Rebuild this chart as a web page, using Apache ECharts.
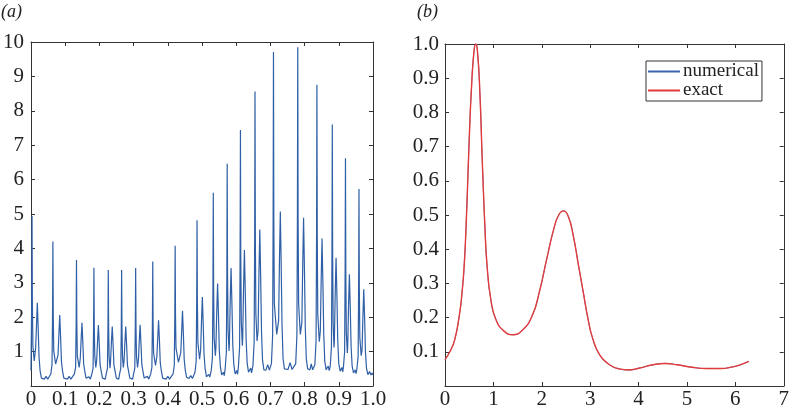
<!DOCTYPE html>
<html>
<head>
<meta charset="utf-8">
<script src="https://cdn.jsdelivr.net/npm/echarts@6/dist/echarts.min.js"></script>
<style>
html,body{margin:0;padding:0;background:#fff;}
#chart{width:792px;height:410px;}
</style>
</head>
<body>
<div id="chart"></div>
<script>
// Panel (a): numerical solution, [x, value]
const numericalA = [
[0,0.45],[0.002,2.47],[0.003,4.94],[0.004,2.47],[0.0055,1.17],[0.0095,0.73],[0.0135,1.1],[0.016,1.74],[0.0185,2.42],[0.021,1.69],[0.0235,0.85],[0.0265,0.45],[0.0305,0.23],
[0.039,0.2],[0.044,0.28],[0.049,0.2],
[0.058,0.35],[0.0615,0.63],[0.063,2.1],[0.064,4.2],[0.065,2.1],[0.0665,1.02],[0.072,0.64],[0.079,0.9],[0.0815,1.48],[0.084,2.06],[0.0865,1.44],[0.089,0.72],[0.092,0.45],[0.096,0.23],
[0.1065,0.2],[0.1115,0.28],[0.1165,0.2],
[0.127,0.35],[0.1305,0.55],[0.132,1.83],[0.133,3.66],[0.134,1.83],[0.1355,0.86],[0.141,0.54],[0.144,0.8],[0.1465,1.32],[0.149,1.84],[0.1515,1.29],[0.154,0.64],[0.157,0.45],[0.161,0.23],
[0.1655,0.2],[0.1695,0.27],[0.1735,0.2],
[0.178,0.35],[0.1815,0.52],[0.183,1.72],[0.184,3.44],[0.185,1.72],[0.1865,0.86],[0.1895,0.54],[0.192,0.75],[0.1945,1.27],[0.197,1.77],[0.1995,1.24],[0.202,0.62],[0.205,0.45],[0.209,0.23],
[0.212,0.2],[0.2145,0.27],[0.217,0.2],
[0.22,0.35],[0.2235,0.51],[0.225,1.69],[0.226,3.37],[0.227,1.69],[0.2285,0.83],[0.231,0.52],[0.2325,0.7],[0.235,1.25],[0.2375,1.73],[0.24,1.21],[0.2425,0.61],[0.2455,0.45],[0.2495,0.23],
[0.2515,0.2],[0.254,0.27],[0.2565,0.2],
[0.259,0.35],[0.2625,0.51],[0.264,1.69],[0.265,3.37],[0.266,1.69],[0.2675,0.86],[0.27,0.54],[0.272,0.72],[0.2745,1.25],[0.277,1.73],[0.2795,1.21],[0.282,0.61],[0.285,0.45],[0.289,0.23],
[0.292,0.2],[0.2945,0.27],[0.297,0.2],
[0.3,0.35],[0.3035,0.51],[0.305,1.72],[0.306,3.43],[0.307,1.72],[0.3085,0.86],[0.3115,0.54],[0.314,0.75],[0.3165,1.28],[0.319,1.78],[0.3215,1.25],[0.324,0.62],[0.327,0.45],[0.331,0.23],
[0.3365,0.2],[0.3405,0.28],[0.3445,0.2],
[0.35,0.35],[0.3535,0.54],[0.355,1.81],[0.356,3.62],[0.357,1.81],[0.3585,0.96],[0.364,0.6],[0.368,0.85],[0.3705,1.38],[0.373,1.91],[0.3755,1.34],[0.378,0.67],[0.381,0.45],[0.385,0.23],
[0.395,0.2],[0.4,0.28],[0.405,0.2],
[0.4155,0.35],[0.419,0.61],[0.4205,2.04],[0.4215,4.08],[0.4225,2.04],[0.424,1.1],[0.431,0.69],[0.438,0.98],[0.4405,1.58],[0.443,2.19],[0.4455,1.53],[0.448,0.77],[0.451,0.47],[0.455,0.25],
[0.462,0.22],[0.467,0.3],[0.472,0.22],
[0.4795,0.4],[0.483,0.72],[0.4845,2.41],[0.4855,4.82],[0.4865,2.41],[0.488,1.25],[0.493,0.78],[0.496,1.05],[0.4985,1.86],[0.501,2.59],[0.5035,1.81],[0.506,0.91],[0.509,0.52],[0.513,0.27],
[0.5175,0.26],[0.52,0.34],[0.5225,0.26],
[0.527,0.45],[0.5305,0.84],[0.532,2.81],[0.533,5.62],[0.534,2.81],[0.5355,1.41],[0.539,0.88],[0.5406,1.1],[0.5431,2.15],[0.5456,2.98],[0.5481,2.09],[0.5506,1.04],[0.5536,0.58],[0.5576,0.32],
[0.5601,0.3],[0.5626,0.4],[0.5651,0.3],
[0.5677,0.5],[0.5712,0.97],[0.5727,3.23],[0.5737,6.46],[0.5747,3.23],[0.5762,1.63],[0.579,1.02],[0.58,1.2],[0.5825,2.47],[0.585,3.43],[0.5875,2.4],[0.59,1.2],[0.593,0.62],[0.597,0.35],
[0.5995,0.34],[0.6017,0.45],[0.604,0.34],
[0.6064,0.55],[0.6099,1.12],[0.6114,3.72],[0.6124,7.44],[0.6134,3.72],[0.6149,1.87],[0.618,1.17],[0.619,1.38],[0.6215,2.84],[0.624,3.95],[0.6265,2.77],[0.629,1.38],[0.632,0.67],[0.636,0.4],
[0.64,0.38],[0.6425,0.52],[0.645,0.38],
[0.649,0.6],[0.6525,1.28],[0.654,4.28],[0.655,8.56],[0.656,4.28],[0.6575,2.1],[0.661,1.31],[0.664,1.6],[0.6665,3.28],[0.669,4.55],[0.6715,3.19],[0.674,1.59],[0.677,0.75],[0.681,0.47],
[0.687,0.46],[0.692,0.62],[0.697,0.46],
[0.703,0.65],[0.7065,1.46],[0.708,4.86],[0.709,9.71],[0.71,4.86],[0.7115,2.4],[0.7185,1.5],[0.724,1.9],[0.7265,3.65],[0.729,5.07],[0.7315,3.55],[0.734,1.77],[0.737,0.8],[0.741,0.5],
[0.7515,0.48],[0.7575,0.68],[0.7635,0.48],
[0.774,0.65],[0.7775,1.48],[0.779,4.93],[0.78,9.85],[0.781,4.93],[0.7825,2.4],[0.7875,1.5],[0.792,1.85],[0.7945,3.52],[0.797,4.89],[0.7995,3.42],[0.802,1.71],[0.805,0.78],[0.809,0.5],
[0.8155,0.47],[0.8195,0.64],[0.8235,0.47],
[0.83,0.62],[0.8335,1.31],[0.835,4.38],[0.836,8.76],[0.837,4.38],[0.8385,2.1],[0.843,1.29],[0.846,1.6],[0.8485,3.09],[0.851,4.29],[0.8535,3.0],[0.856,1.5],[0.859,0.72],[0.863,0.47],
[0.866,0.45],[0.869,0.58],[0.872,0.45],
[0.875,0.58],[0.8785,1.14],[0.88,3.8],[0.881,7.6],[0.882,3.8],[0.8835,1.8],[0.886,1.12],[0.887,1.3],[0.8895,2.69],[0.892,3.73],[0.8945,2.61],[0.897,1.31],[0.9,0.65],[0.904,0.43],
[0.9065,0.41],[0.909,0.54],[0.9115,0.41],
[0.9135,0.55],[0.917,0.99],[0.9185,3.31],[0.9195,6.62],[0.9205,3.31],[0.922,1.55],[0.925,0.96],[0.926,1.13],[0.9285,2.34],[0.931,3.25],[0.9335,2.28],[0.936,1.14],[0.939,0.58],[0.943,0.38],
[0.9455,0.36],[0.948,0.47],[0.9505,0.36],
[0.953,0.5],[0.9565,0.86],[0.958,2.87],[0.959,5.73],[0.96,2.87],[0.9615,1.4],[0.9655,0.88],[0.968,1.05],[0.9705,2.02],[0.973,2.81],[0.9755,1.97],[0.978,0.98],[0.981,0.52],[0.985,0.33],
[0.99,0.42],[0.994,0.32],[0.997,0.38],[1.0,0.32]
];

// Panel (b): exact and numerical spectra, [x, value]
const exactB = [
[0,0.077],[0.1,0.1],[0.2,0.135],[0.3,0.21],[0.35,0.27],[0.4,0.36],[0.45,0.52],[0.5,0.72],[0.55,0.88],[0.6,0.98],[0.635,1.0],[0.67,0.98],[0.72,0.86],[0.77,0.66],[0.82,0.48],[0.87,0.35],[0.95,0.25],[1.05,0.195],[1.2,0.163],[1.4,0.15],[1.6,0.163],[1.8,0.205],[1.95,0.275],[2.1,0.37],[2.25,0.46],[2.35,0.5],[2.45,0.512],[2.55,0.495],[2.65,0.44],[2.75,0.36],[2.85,0.28],[2.95,0.2],[3.05,0.14],[3.2,0.09],[3.4,0.062],[3.6,0.05],[3.8,0.047],[4.0,0.052],[4.3,0.062],[4.55,0.066],[4.8,0.062],[5.1,0.055],[5.4,0.051],[5.7,0.051],[5.95,0.056],[6.1,0.062],[6.28,0.072]
];
const numericalB = exactB.map(p => [p[0], p[1]]);

const legendNames = ['numerical', 'exact'];
const panelLabels = ['(a)', '(b)'];

const FONT = "'Liberation Serif', 'Times New Roman', serif";
const AX = '#333';

function axisCommon(show) {
  return {
    axisLine: {show: true, onZero: false, lineStyle: {color: AX, width: 1}},
    axisTick: {show: true, inside: true, length: 4, lineStyle: {color: AX, width: 1}},
    splitLine: {show: false},
    axisLabel: {show: show, color: '#222', fontFamily: FONT, fontSize: 21}
  };
}
function mk(base, extra) {
  const o = axisCommon(base);
  Object.keys(extra).forEach(k => {
    if (k === 'axisLabel') Object.assign(o.axisLabel, extra[k]); else o[k] = extra[k];
  });
  return o;
}

const chart = echarts.init(document.getElementById('chart'));
const fmtA_x = v => (v === 0 ? '0' : v.toFixed(1));
const fmtA_y = v => (v === 0 ? '' : String(v));
const fmtB_x = v => String(v);
const fmtB_y = v => (v === 0 ? '' : v.toFixed(1));

chart.setOption({
  animation: false,
  backgroundColor: '#fff',
  grid: [
    {left: 29, top: 42, width: 344, height: 344},
    {left: 445, top: 44, width: 342, height: 342}
  ],
  xAxis: [
    mk(true, {type: 'value', gridIndex: 0, min: 0, max: 1, interval: 0.1, position: 'bottom', axisLabel: {formatter: fmtA_x, margin: 3}}),
    mk(false, {type: 'value', gridIndex: 0, min: 0, max: 1, interval: 0.1, position: 'top'}),
    mk(true, {type: 'value', gridIndex: 1, min: 0, max: 7, interval: 1, position: 'bottom', axisLabel: {formatter: fmtB_x, margin: 3}}),
    mk(false, {type: 'value', gridIndex: 1, min: 0, max: 7, interval: 1, position: 'top'})
  ],
  yAxis: [
    mk(true, {type: 'value', gridIndex: 0, min: 0, max: 10, interval: 1, position: 'left', axisLabel: {formatter: fmtA_y, margin: 7}}),
    mk(false, {type: 'value', gridIndex: 0, min: 0, max: 10, interval: 1, position: 'right'}),
    mk(true, {type: 'value', gridIndex: 1, min: 0, max: 1, interval: 0.1, position: 'left', axisLabel: {formatter: fmtB_y, margin: 6}}),
    mk(false, {type: 'value', gridIndex: 1, min: 0, max: 1, interval: 0.1, position: 'right'})
  ],
  legend: {
    data: legendNames,
    orient: 'vertical',
    left: 646, top: 61,
    itemWidth: 32, itemHeight: 2, itemGap: 0,
    icon: 'rect',
    padding: [1, 3, 1, 2],
    borderColor: '#333', borderWidth: 1,
    backgroundColor: '#fff',
    textStyle: {fontFamily: FONT, fontSize: 19, color: '#222', lineHeight: 18, padding: [0, 0, 0, -2]}
  },
  graphic: [
    {type: 'text', left: 1, top: 3, style: {text: panelLabels[0], font: "italic 18px 'Liberation Serif', serif", fill: '#222'}},
    {type: 'text', left: 417, top: 3, style: {text: panelLabels[1], font: "italic 18px 'Liberation Serif', serif", fill: '#222'}}
  ],
  series: [
    {name: 'numerical_a', type: 'line', xAxisIndex: 0, yAxisIndex: 0, data: numericalA, showSymbol: false, symbol: 'none', lineStyle: {color: '#2f5fa6', width: 1.2}, itemStyle: {color: '#2f5fa6'}},
    {name: legendNames[0], type: 'line', xAxisIndex: 2, yAxisIndex: 2, data: numericalB, smooth: true, showSymbol: false, symbol: 'none', lineStyle: {color: '#3a64b0', width: 0.8}, itemStyle: {color: '#3a64b0'}},
    {name: legendNames[1], type: 'line', xAxisIndex: 2, yAxisIndex: 2, data: exactB, smooth: true, showSymbol: false, symbol: 'none', lineStyle: {color: '#e23b3b', width: 1.4}, itemStyle: {color: '#e23b3b'}}
  ]
});
</script>
</body>
</html>
